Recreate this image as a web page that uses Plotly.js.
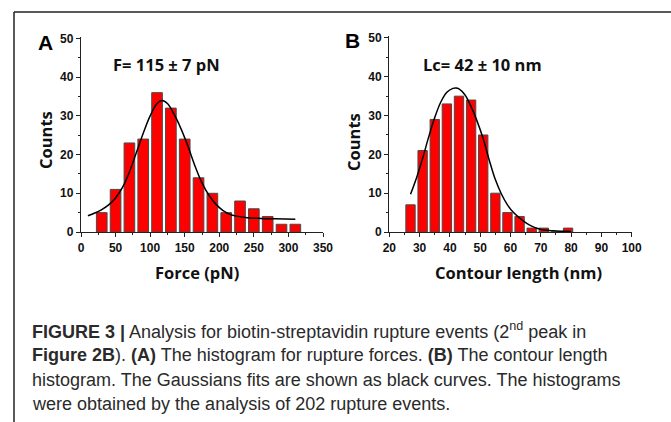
<!DOCTYPE html>
<html>
<head>
<meta charset="utf-8">
<script src="https://cdn.plot.ly/plotly-3.0.1.min.js"></script>
<style>html,body{margin:0;padding:0;background:#fff;}#chart{width:671px;height:422px;}</style>
</head>
<body>
<div id="chart"></div>
<script>
// Panel A: rupture force histogram (bin centres, pN) and counts
const forceBins = [30, 50, 70, 90, 110, 130, 150, 170, 190, 210, 230, 250, 270, 290, 310];
const forceCounts = [5, 11, 23, 24, 36, 32, 24, 14, 10, 5, 8, 6, 4, 2, 2];
// Panel A: Gaussian fit curve
const forceFitX = [10, 20, 30, 40, 50, 60, 70, 80, 90, 100, 110, 117, 125, 135, 145, 155, 165, 175, 185, 195, 205, 215, 225, 240, 260, 280, 310];
const forceFitY = [4.2, 4.9, 5.8, 7.0, 8.8, 11.5, 15.5, 20.5, 25.5, 30.0, 33.2, 34.0, 33.2, 30.3, 26.5, 22.0, 17.0, 12.7, 9.5, 7.2, 5.6, 4.6, 4.1, 3.7, 3.5, 3.4, 3.3];

// Panel B: contour length histogram (bin centres, nm) and counts
const lengthBins = [27, 31, 35, 39, 43, 47, 51, 55, 59, 63, 67, 71, 75, 79];
const lengthCounts = [7, 21, 29, 33, 35, 34, 25, 10, 5, 4, 1, 1, 0, 1];
// Panel B: Gaussian fit curve
const lengthFitX = [27, 29, 31, 33, 35, 37, 39, 41, 42, 43, 45, 47, 49, 51, 53, 55, 57, 59, 61, 63, 65, 67, 69, 71, 74, 77, 80];
const lengthFitY = [9.7, 14, 19, 24.5, 29.5, 33.5, 36, 37, 37.1, 36.9, 35.3, 32.3, 28.5, 24, 18.5, 13.5, 9.8, 7, 5, 3.6, 2.4, 1.5, 0.9, 0.5, 0.3, 0.2, 0.15];

const forceTicks = [0, 50, 100, 150, 200, 250, 300, 350];
const lengthTicks = [20, 30, 40, 50, 60, 70, 80, 90, 100];
const countTicks = [0, 10, 20, 30, 40, 50];

const captionLines = [
  "<b>FIGURE 3 |</b> Analysis for biotin-streptavidin rupture events (2<sup>nd</sup> peak in",
  "<b>Figure 2B</b>). <b>(A)</b> The histogram for rupture forces. <b>(B)</b> The contour length",
  "histogram. The Gaussians fits are shown as black curves. The histograms",
  "were obtained by the analysis of 202 rupture events."
];

const W = 671, H = 422;
const px = x => x / W;
const py = y => 1 - y / H;

const barStyle = {color: '#ff0000', line: {color: '#4a4a4a', width: 1}};
const fitStyle = {color: '#000000', width: 1.5, shape: 'spline'};

const traces = [
  {type: 'bar', x: forceBins, y: forceCounts, xaxis: 'x', yaxis: 'y', marker: barStyle, hoverinfo: 'x+y'},
  {type: 'scatter', mode: 'lines', x: forceFitX, y: forceFitY, xaxis: 'x', yaxis: 'y', line: fitStyle},
  {type: 'bar', x: lengthBins, y: lengthCounts, xaxis: 'x2', yaxis: 'y2', marker: barStyle, hoverinfo: 'x+y'},
  {type: 'scatter', mode: 'lines', x: lengthFitX, y: lengthFitY, xaxis: 'x2', yaxis: 'y2', line: fitStyle}
];

const tickFont = {family: 'Liberation Sans, Arial, sans-serif', size: 12, color: '#111', weight: 'bold'};
function xAxis(domain, range, ticks, minorStep, anchor) {
  return {
    domain: domain, range: range, anchor: anchor,
    tickmode: 'array', tickvals: ticks, ticktext: ticks.map(String),
    ticks: 'outside', ticklen: 4, tickwidth: 1, tickcolor: '#222',
    minor: {dtick: minorStep, ticks: 'outside', ticklen: 2, tickwidth: 1, tickcolor: '#222', showgrid: false},
    showline: true, linecolor: '#222', linewidth: 1.2,
    showgrid: false, zeroline: false, tickfont: tickFont, fixedrange: true
  };
}
function yAxis(domain, anchor) {
  return {
    domain: domain, range: [0, 50.5], anchor: anchor,
    tickmode: 'array', tickvals: countTicks, ticktext: countTicks.map(String),
    ticks: 'outside', ticklen: 4, tickwidth: 1, tickcolor: '#222',
    minor: {dtick: 5, ticks: 'outside', ticklen: 2, tickwidth: 1, tickcolor: '#222', showgrid: false},
    showline: true, linecolor: '#222', linewidth: 1.2,
    showgrid: false, zeroline: false, tickfont: tickFont, fixedrange: true
  };
}

const titleFont = {family: 'Open Sans, sans-serif', size: 16.5, color: '#111', weight: 'bold'};
const annotations = [
  {text: 'A', x: px(45), y: py(42), font: {family: 'Liberation Sans, Arial, sans-serif', size: 21, color: '#000', weight: 'bold'}},
  {text: 'B', x: px(352), y: py(41), font: {family: 'Liberation Sans, Arial, sans-serif', size: 21, color: '#000', weight: 'bold'}},
  {text: 'F= 115 ± 7 pN', x: px(166), y: py(65), font: titleFont},
  {text: 'Lc= 42 ± 10 nm', x: px(482), y: py(65), font: titleFont},
  {text: 'Counts', x: px(45), y: py(140), textangle: -90, font: titleFont},
  {text: 'Counts', x: px(353), y: py(142), textangle: -90, font: titleFont},
  {text: 'Force (pN)', x: px(197), y: py(272), font: titleFont},
  {text: 'Contour length (nm)', x: px(518), y: py(272), font: titleFont}
].map(a => Object.assign({xref: 'paper', yref: 'paper', showarrow: false, xanchor: 'center', yanchor: 'middle'}, a));

const captionY = [330, 355, 380, 404];
captionLines.forEach((t, i) => {
  annotations.push({
    text: t, xref: 'paper', yref: 'paper', x: px(30), y: py(captionY[i]),
    xanchor: 'left', yanchor: 'middle', showarrow: false, align: 'left',
    font: {family: 'Liberation Sans, Arial, sans-serif', size: 18, color: '#2a2a2a'}
  });
});

const layout = {
  width: W, height: H,
  margin: {l: 0, r: 0, t: 0, b: 0},
  paper_bgcolor: '#ffffff', plot_bgcolor: 'rgba(0,0,0,0)',
  showlegend: false, bargap: 0.23,
  xaxis: xAxis([px(81), px(323)], [0, 350], forceTicks, 25, 'y'),
  yaxis: yAxis([py(232), py(36.5)], 'x'),
  xaxis2: xAxis([px(389.3), px(631.7)], [20, 100], lengthTicks, 5, 'y2'),
  yaxis2: yAxis([py(232), py(36)], 'x2'),
  annotations: annotations,
  shapes: [
    {type: 'line', xref: 'paper', yref: 'paper', x0: px(14), x1: 1, y0: py(12), y1: py(12), line: {color: '#222', width: 1.5}},
    {type: 'line', xref: 'paper', yref: 'paper', x0: px(14), x1: px(14), y0: py(12), y1: 0, line: {color: '#222', width: 1.5}}
  ]
};

Plotly.newPlot('chart', traces, layout, {displayModeBar: false, staticPlot: true});
</script>
</body>
</html>
